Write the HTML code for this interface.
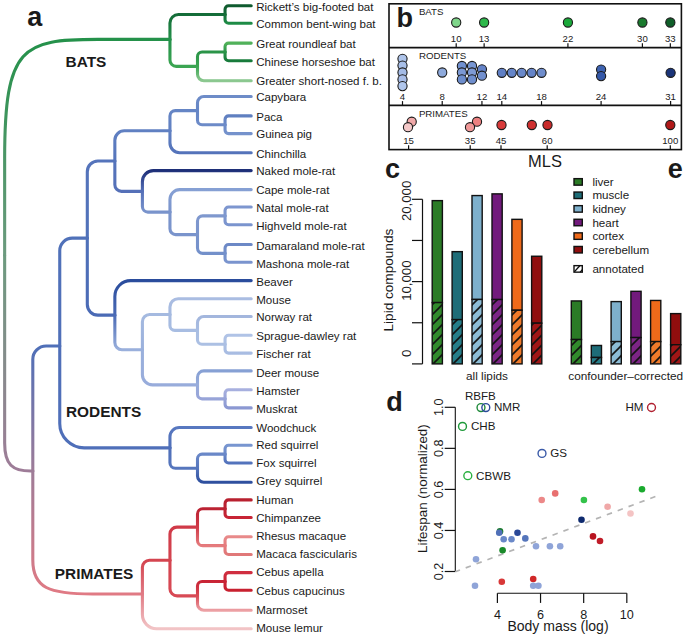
<!DOCTYPE html>
<html><head><meta charset="utf-8"><style>
html,body{margin:0;padding:0;background:#fff;}
svg{display:block;}
text{font-family:"Liberation Sans", sans-serif;fill:#1a1a1a;}
</style></head><body>
<svg width="685" height="636" viewBox="0 0 685 636">
<defs><linearGradient id="g1" gradientUnits="userSpaceOnUse" x1="4.65" y1="255.20" x2="4.65" y2="39.40"><stop offset="0" stop-color="#6c9a7e"/><stop offset="1" stop-color="#24914a"/></linearGradient><linearGradient id="g2" gradientUnits="userSpaceOnUse" x1="169.95" y1="39.40" x2="169.95" y2="14.50"><stop offset="0" stop-color="#24914a"/><stop offset="1" stop-color="#146c38"/></linearGradient><linearGradient id="g3" gradientUnits="userSpaceOnUse" x1="225.05" y1="14.50" x2="225.05" y2="5.70"><stop offset="0" stop-color="#146c38"/><stop offset="1" stop-color="#0f5a2e"/></linearGradient><linearGradient id="g4" gradientUnits="userSpaceOnUse" x1="225.05" y1="14.50" x2="225.05" y2="23.30"><stop offset="0" stop-color="#146c38"/><stop offset="1" stop-color="#1e8c46"/></linearGradient><linearGradient id="g5" gradientUnits="userSpaceOnUse" x1="169.95" y1="39.40" x2="169.95" y2="66.33"><stop offset="0" stop-color="#24914a"/><stop offset="1" stop-color="#3ba552"/></linearGradient><linearGradient id="g6" gradientUnits="userSpaceOnUse" x1="197.50" y1="66.33" x2="197.50" y2="51.95"><stop offset="0" stop-color="#3ba552"/><stop offset="1" stop-color="#2a9448"/></linearGradient><linearGradient id="g7" gradientUnits="userSpaceOnUse" x1="225.05" y1="51.95" x2="225.05" y2="43.10"><stop offset="0" stop-color="#2a9448"/><stop offset="1" stop-color="#52b25a"/></linearGradient><linearGradient id="g8" gradientUnits="userSpaceOnUse" x1="225.05" y1="51.95" x2="225.05" y2="60.80"><stop offset="0" stop-color="#2a9448"/><stop offset="1" stop-color="#177a3b"/></linearGradient><linearGradient id="g9" gradientUnits="userSpaceOnUse" x1="197.50" y1="66.33" x2="197.50" y2="80.70"><stop offset="0" stop-color="#3ba552"/><stop offset="1" stop-color="#8cc890"/></linearGradient><linearGradient id="g10" gradientUnits="userSpaceOnUse" x1="4.65" y1="255.20" x2="4.65" y2="471.00"><stop offset="0" stop-color="#6c9a7e"/><stop offset="1" stop-color="#9e7c98"/></linearGradient><linearGradient id="g11" gradientUnits="userSpaceOnUse" x1="32.80" y1="471.00" x2="32.80" y2="346.00"><stop offset="0" stop-color="#9e7c98"/><stop offset="1" stop-color="#4f6fb8"/></linearGradient><linearGradient id="g12" gradientUnits="userSpaceOnUse" x1="59.75" y1="346.00" x2="59.75" y2="238.11"><stop offset="0" stop-color="#4f6fb8"/><stop offset="1" stop-color="#5071b9"/></linearGradient><linearGradient id="g13" gradientUnits="userSpaceOnUse" x1="87.30" y1="238.11" x2="87.30" y2="161.07"><stop offset="0" stop-color="#5071b9"/><stop offset="1" stop-color="#5574bb"/></linearGradient><linearGradient id="g14" gradientUnits="userSpaceOnUse" x1="114.85" y1="161.07" x2="114.85" y2="130.80"><stop offset="0" stop-color="#5574bb"/><stop offset="1" stop-color="#6080c2"/></linearGradient><linearGradient id="g15" gradientUnits="userSpaceOnUse" x1="169.95" y1="130.80" x2="169.95" y2="110.62"><stop offset="0" stop-color="#6080c2"/><stop offset="1" stop-color="#6585c5"/></linearGradient><linearGradient id="g16" gradientUnits="userSpaceOnUse" x1="197.50" y1="110.62" x2="197.50" y2="96.50"><stop offset="0" stop-color="#6585c5"/><stop offset="1" stop-color="#6e8cc8"/></linearGradient><linearGradient id="g17" gradientUnits="userSpaceOnUse" x1="197.50" y1="110.62" x2="197.50" y2="124.75"><stop offset="0" stop-color="#6585c5"/><stop offset="1" stop-color="#6d8bc8"/></linearGradient><linearGradient id="g18" gradientUnits="userSpaceOnUse" x1="225.05" y1="124.75" x2="225.05" y2="115.90"><stop offset="0" stop-color="#6d8bc8"/><stop offset="1" stop-color="#5f7fc0"/></linearGradient><linearGradient id="g19" gradientUnits="userSpaceOnUse" x1="225.05" y1="124.75" x2="225.05" y2="133.60"><stop offset="0" stop-color="#6d8bc8"/><stop offset="1" stop-color="#7592cc"/></linearGradient><linearGradient id="g20" gradientUnits="userSpaceOnUse" x1="169.95" y1="130.80" x2="169.95" y2="152.80"><stop offset="0" stop-color="#6080c2"/><stop offset="1" stop-color="#5473ba"/></linearGradient><linearGradient id="g21" gradientUnits="userSpaceOnUse" x1="114.85" y1="161.07" x2="114.85" y2="191.35"><stop offset="0" stop-color="#5574bb"/><stop offset="1" stop-color="#5570b8"/></linearGradient><linearGradient id="g22" gradientUnits="userSpaceOnUse" x1="142.40" y1="191.35" x2="142.40" y2="170.60"><stop offset="0" stop-color="#5570b8"/><stop offset="1" stop-color="#1e2f78"/></linearGradient><linearGradient id="g23" gradientUnits="userSpaceOnUse" x1="142.40" y1="191.35" x2="142.40" y2="212.10"><stop offset="0" stop-color="#5570b8"/><stop offset="1" stop-color="#7a94cc"/></linearGradient><linearGradient id="g24" gradientUnits="userSpaceOnUse" x1="169.95" y1="212.10" x2="169.95" y2="189.60"><stop offset="0" stop-color="#7a94cc"/><stop offset="1" stop-color="#86a0d4"/></linearGradient><linearGradient id="g25" gradientUnits="userSpaceOnUse" x1="169.95" y1="212.10" x2="169.95" y2="234.60"><stop offset="0" stop-color="#7a94cc"/><stop offset="1" stop-color="#7a94cc"/></linearGradient><linearGradient id="g26" gradientUnits="userSpaceOnUse" x1="197.50" y1="234.60" x2="197.50" y2="215.85"><stop offset="0" stop-color="#7a94cc"/><stop offset="1" stop-color="#7f98ce"/></linearGradient><linearGradient id="g27" gradientUnits="userSpaceOnUse" x1="225.05" y1="215.85" x2="225.05" y2="207.00"><stop offset="0" stop-color="#7f98ce"/><stop offset="1" stop-color="#7d96cf"/></linearGradient><linearGradient id="g28" gradientUnits="userSpaceOnUse" x1="225.05" y1="215.85" x2="225.05" y2="224.70"><stop offset="0" stop-color="#7f98ce"/><stop offset="1" stop-color="#7a94ce"/></linearGradient><linearGradient id="g29" gradientUnits="userSpaceOnUse" x1="197.50" y1="234.60" x2="197.50" y2="253.35"><stop offset="0" stop-color="#7a94cc"/><stop offset="1" stop-color="#7390ca"/></linearGradient><linearGradient id="g30" gradientUnits="userSpaceOnUse" x1="225.05" y1="253.35" x2="225.05" y2="244.50"><stop offset="0" stop-color="#7390ca"/><stop offset="1" stop-color="#6c88c6"/></linearGradient><linearGradient id="g31" gradientUnits="userSpaceOnUse" x1="225.05" y1="253.35" x2="225.05" y2="262.20"><stop offset="0" stop-color="#7390ca"/><stop offset="1" stop-color="#7a94ce"/></linearGradient><linearGradient id="g32" gradientUnits="userSpaceOnUse" x1="87.30" y1="238.11" x2="87.30" y2="315.15"><stop offset="0" stop-color="#5071b9"/><stop offset="1" stop-color="#4a6ab5"/></linearGradient><linearGradient id="g33" gradientUnits="userSpaceOnUse" x1="114.85" y1="315.15" x2="114.85" y2="280.60"><stop offset="0" stop-color="#4a6ab5"/><stop offset="1" stop-color="#2a4c9c"/></linearGradient><linearGradient id="g34" gradientUnits="userSpaceOnUse" x1="114.85" y1="315.15" x2="114.85" y2="349.70"><stop offset="0" stop-color="#4a6ab5"/><stop offset="1" stop-color="#9ab0dc"/></linearGradient><linearGradient id="g35" gradientUnits="userSpaceOnUse" x1="142.40" y1="349.70" x2="142.40" y2="314.52"><stop offset="0" stop-color="#9ab0dc"/><stop offset="1" stop-color="#a5bae0"/></linearGradient><linearGradient id="g36" gradientUnits="userSpaceOnUse" x1="169.95" y1="314.52" x2="169.95" y2="298.70"><stop offset="0" stop-color="#a5bae0"/><stop offset="1" stop-color="#aabde2"/></linearGradient><linearGradient id="g37" gradientUnits="userSpaceOnUse" x1="169.95" y1="314.52" x2="169.95" y2="330.35"><stop offset="0" stop-color="#a5bae0"/><stop offset="1" stop-color="#a8bde2"/></linearGradient><linearGradient id="g38" gradientUnits="userSpaceOnUse" x1="197.50" y1="330.35" x2="197.50" y2="316.50"><stop offset="0" stop-color="#a8bde2"/><stop offset="1" stop-color="#a3b6dd"/></linearGradient><linearGradient id="g39" gradientUnits="userSpaceOnUse" x1="197.50" y1="330.35" x2="197.50" y2="344.20"><stop offset="0" stop-color="#a8bde2"/><stop offset="1" stop-color="#acc0e3"/></linearGradient><linearGradient id="g40" gradientUnits="userSpaceOnUse" x1="225.05" y1="344.20" x2="225.05" y2="335.30"><stop offset="0" stop-color="#acc0e3"/><stop offset="1" stop-color="#b0c3e6"/></linearGradient><linearGradient id="g41" gradientUnits="userSpaceOnUse" x1="225.05" y1="344.20" x2="225.05" y2="353.10"><stop offset="0" stop-color="#acc0e3"/><stop offset="1" stop-color="#a8bce2"/></linearGradient><linearGradient id="g42" gradientUnits="userSpaceOnUse" x1="142.40" y1="349.70" x2="142.40" y2="384.88"><stop offset="0" stop-color="#9ab0dc"/><stop offset="1" stop-color="#98acdb"/></linearGradient><linearGradient id="g43" gradientUnits="userSpaceOnUse" x1="197.50" y1="384.88" x2="197.50" y2="370.90"><stop offset="0" stop-color="#98acdb"/><stop offset="1" stop-color="#86a0d4"/></linearGradient><linearGradient id="g44" gradientUnits="userSpaceOnUse" x1="197.50" y1="384.88" x2="197.50" y2="398.85"><stop offset="0" stop-color="#98acdb"/><stop offset="1" stop-color="#98a4d8"/></linearGradient><linearGradient id="g45" gradientUnits="userSpaceOnUse" x1="225.05" y1="398.85" x2="225.05" y2="389.80"><stop offset="0" stop-color="#98a4d8"/><stop offset="1" stop-color="#a8b0df"/></linearGradient><linearGradient id="g46" gradientUnits="userSpaceOnUse" x1="225.05" y1="398.85" x2="225.05" y2="407.90"><stop offset="0" stop-color="#98a4d8"/><stop offset="1" stop-color="#8b98d2"/></linearGradient><linearGradient id="g47" gradientUnits="userSpaceOnUse" x1="59.75" y1="346.00" x2="59.75" y2="447.86"><stop offset="0" stop-color="#4f6fb8"/><stop offset="1" stop-color="#4f6fb9"/></linearGradient><linearGradient id="g48" gradientUnits="userSpaceOnUse" x1="169.95" y1="447.86" x2="169.95" y2="427.50"><stop offset="0" stop-color="#4f6fb9"/><stop offset="1" stop-color="#5878c0"/></linearGradient><linearGradient id="g49" gradientUnits="userSpaceOnUse" x1="169.95" y1="447.86" x2="169.95" y2="468.23"><stop offset="0" stop-color="#4f6fb9"/><stop offset="1" stop-color="#5676bd"/></linearGradient><linearGradient id="g50" gradientUnits="userSpaceOnUse" x1="197.50" y1="468.23" x2="197.50" y2="454.15"><stop offset="0" stop-color="#5676bd"/><stop offset="1" stop-color="#6a88c8"/></linearGradient><linearGradient id="g51" gradientUnits="userSpaceOnUse" x1="225.05" y1="454.15" x2="225.05" y2="445.30"><stop offset="0" stop-color="#6a88c8"/><stop offset="1" stop-color="#7896d0"/></linearGradient><linearGradient id="g52" gradientUnits="userSpaceOnUse" x1="225.05" y1="454.15" x2="225.05" y2="463.00"><stop offset="0" stop-color="#6a88c8"/><stop offset="1" stop-color="#5272bc"/></linearGradient><linearGradient id="g53" gradientUnits="userSpaceOnUse" x1="197.50" y1="468.23" x2="197.50" y2="482.30"><stop offset="0" stop-color="#5676bd"/><stop offset="1" stop-color="#2e4f9e"/></linearGradient><linearGradient id="g54" gradientUnits="userSpaceOnUse" x1="32.80" y1="471.00" x2="32.80" y2="594.00"><stop offset="0" stop-color="#9e7c98"/><stop offset="1" stop-color="#e07a84"/></linearGradient><linearGradient id="g55" gradientUnits="userSpaceOnUse" x1="142.40" y1="594.00" x2="142.40" y2="560.30"><stop offset="0" stop-color="#e07a84"/><stop offset="1" stop-color="#d4444f"/></linearGradient><linearGradient id="g56" gradientUnits="userSpaceOnUse" x1="169.95" y1="560.30" x2="169.95" y2="527.15"><stop offset="0" stop-color="#d4444f"/><stop offset="1" stop-color="#d03a48"/></linearGradient><linearGradient id="g57" gradientUnits="userSpaceOnUse" x1="197.50" y1="527.15" x2="197.50" y2="508.70"><stop offset="0" stop-color="#d03a48"/><stop offset="1" stop-color="#bb2232"/></linearGradient><linearGradient id="g58" gradientUnits="userSpaceOnUse" x1="225.05" y1="508.70" x2="225.05" y2="499.90"><stop offset="0" stop-color="#bb2232"/><stop offset="1" stop-color="#b8202f"/></linearGradient><linearGradient id="g59" gradientUnits="userSpaceOnUse" x1="225.05" y1="508.70" x2="225.05" y2="517.50"><stop offset="0" stop-color="#bb2232"/><stop offset="1" stop-color="#c82435"/></linearGradient><linearGradient id="g60" gradientUnits="userSpaceOnUse" x1="197.50" y1="527.15" x2="197.50" y2="545.60"><stop offset="0" stop-color="#d03a48"/><stop offset="1" stop-color="#e57b7d"/></linearGradient><linearGradient id="g61" gradientUnits="userSpaceOnUse" x1="225.05" y1="545.60" x2="225.05" y2="536.70"><stop offset="0" stop-color="#e57b7d"/><stop offset="1" stop-color="#e88a8a"/></linearGradient><linearGradient id="g62" gradientUnits="userSpaceOnUse" x1="225.05" y1="545.60" x2="225.05" y2="554.50"><stop offset="0" stop-color="#e57b7d"/><stop offset="1" stop-color="#e07878"/></linearGradient><linearGradient id="g63" gradientUnits="userSpaceOnUse" x1="169.95" y1="560.30" x2="169.95" y2="595.88"><stop offset="0" stop-color="#d4444f"/><stop offset="1" stop-color="#d84a55"/></linearGradient><linearGradient id="g64" gradientUnits="userSpaceOnUse" x1="197.50" y1="595.88" x2="197.50" y2="581.45"><stop offset="0" stop-color="#d84a55"/><stop offset="1" stop-color="#c82435"/></linearGradient><linearGradient id="g65" gradientUnits="userSpaceOnUse" x1="225.05" y1="581.45" x2="225.05" y2="572.60"><stop offset="0" stop-color="#c82435"/><stop offset="1" stop-color="#d02e40"/></linearGradient><linearGradient id="g66" gradientUnits="userSpaceOnUse" x1="225.05" y1="581.45" x2="225.05" y2="590.30"><stop offset="0" stop-color="#c82435"/><stop offset="1" stop-color="#c8202f"/></linearGradient><linearGradient id="g67" gradientUnits="userSpaceOnUse" x1="197.50" y1="595.88" x2="197.50" y2="610.30"><stop offset="0" stop-color="#d84a55"/><stop offset="1" stop-color="#eca0a4"/></linearGradient><linearGradient id="g68" gradientUnits="userSpaceOnUse" x1="142.40" y1="594.00" x2="142.40" y2="628.70"><stop offset="0" stop-color="#e07a84"/><stop offset="1" stop-color="#f2c4c6"/></linearGradient><pattern id="h0" patternUnits="userSpaceOnUse" width="10.0" height="10.0" x="0" y="366.90"><rect width="10.0" height="10.0" fill="#318a2c"/><path d="M-2,12.0 L12.0,-2 M-5,5 L5,-5 M5,15 L15,5" stroke="#111" stroke-width="1.6"/></pattern><pattern id="h1" patternUnits="userSpaceOnUse" width="10.0" height="10.0" x="0" y="366.90"><rect width="10.0" height="10.0" fill="#267e8a"/><path d="M-2,12.0 L12.0,-2 M-5,5 L5,-5 M5,15 L15,5" stroke="#111" stroke-width="1.6"/></pattern><pattern id="h2" patternUnits="userSpaceOnUse" width="10.0" height="10.0" x="0" y="366.90"><rect width="10.0" height="10.0" fill="#8cbcd6"/><path d="M-2,12.0 L12.0,-2 M-5,5 L5,-5 M5,15 L15,5" stroke="#111" stroke-width="1.6"/></pattern><pattern id="h3" patternUnits="userSpaceOnUse" width="10.0" height="10.0" x="0" y="366.90"><rect width="10.0" height="10.0" fill="#7c2486"/><path d="M-2,12.0 L12.0,-2 M-5,5 L5,-5 M5,15 L15,5" stroke="#111" stroke-width="1.6"/></pattern><pattern id="h4" patternUnits="userSpaceOnUse" width="10.0" height="10.0" x="0" y="366.90"><rect width="10.0" height="10.0" fill="#f07a2a"/><path d="M-2,12.0 L12.0,-2 M-5,5 L5,-5 M5,15 L15,5" stroke="#111" stroke-width="1.6"/></pattern><pattern id="h5" patternUnits="userSpaceOnUse" width="10.0" height="10.0" x="0" y="366.90"><rect width="10.0" height="10.0" fill="#a01616"/><path d="M-2,12.0 L12.0,-2 M-5,5 L5,-5 M5,15 L15,5" stroke="#111" stroke-width="1.6"/></pattern></defs>
<g fill="none" stroke-width="3.10" stroke-linecap="round" stroke-linejoin="round"><path d="M4.65,255.20 V158.3 C4.65,45.9 22.7,39.40 97.9,39.40 H169.95" stroke="url(#g1)"/><path d="M169.95,39.40 V23.02 C169.95,18.33 173.78,14.50 178.47,14.50 H225.05" stroke="url(#g2)"/><path d="M225.05,14.50 V9.19 C225.05,7.27 226.62,5.70 228.54,5.70 H251.20" stroke="url(#g3)"/><path d="M225.05,14.50 V19.81 C225.05,21.73 226.62,23.30 228.54,23.30 H251.20" stroke="url(#g4)"/><path d="M169.95,39.40 V60.06 C169.95,63.51 172.77,66.33 176.21,66.33 H197.50" stroke="url(#g5)"/><path d="M197.50,66.33 V56.53 C197.50,54.01 199.56,51.95 202.08,51.95 H225.05" stroke="url(#g6)"/><path d="M225.05,51.95 V46.60 C225.05,44.67 226.62,43.10 228.55,43.10 H251.20" stroke="url(#g7)"/><path d="M225.05,51.95 V57.30 C225.05,59.23 226.62,60.80 228.55,60.80 H251.20" stroke="url(#g8)"/><path d="M197.50,66.33 V74.31 C197.50,77.82 200.38,80.70 203.89,80.70 H251.20" stroke="url(#g9)"/><path d="M4.65,255.20 V443.00 C4.65,465.00 12.65,471.00 30.65,471.00 H32.80" stroke="url(#g10)"/><path d="M32.80,471.00 V359.35 C32.80,352.01 38.81,346.00 46.15,346.00 H59.75" stroke="url(#g11)"/><path d="M59.75,346.00 V250.65 C59.75,243.76 65.39,238.11 72.29,238.11 H87.30" stroke="url(#g12)"/><path d="M87.30,238.11 V171.67 C87.30,165.84 92.07,161.07 97.90,161.07 H114.85" stroke="url(#g13)"/><path d="M114.85,161.07 V140.19 C114.85,135.03 119.08,130.80 124.24,130.80 H169.95" stroke="url(#g14)"/><path d="M169.95,130.80 V116.05 C169.95,113.07 172.39,110.62 175.37,110.62 H197.50" stroke="url(#g15)"/><path d="M197.50,110.62 V102.83 C197.50,99.35 200.35,96.50 203.83,96.50 H251.20" stroke="url(#g16)"/><path d="M197.50,110.62 V120.21 C197.50,122.71 199.54,124.75 202.04,124.75 H225.05" stroke="url(#g17)"/><path d="M225.05,124.75 V119.40 C225.05,117.47 226.62,115.90 228.55,115.90 H251.20" stroke="url(#g18)"/><path d="M225.05,124.75 V130.10 C225.05,132.03 226.62,133.60 228.55,133.60 H251.20" stroke="url(#g19)"/><path d="M169.95,130.80 V143.08 C169.95,148.42 174.33,152.80 179.67,152.80 H251.20" stroke="url(#g20)"/><path d="M114.85,161.07 V184.71 C114.85,188.36 117.84,191.35 121.49,191.35 H142.40" stroke="url(#g21)"/><path d="M142.40,191.35 V181.53 C142.40,175.52 147.32,170.60 153.33,170.60 H251.20" stroke="url(#g22)"/><path d="M142.40,191.35 V206.60 C142.40,209.63 144.87,212.10 147.90,212.10 H169.95" stroke="url(#g23)"/><path d="M169.95,212.10 V199.43 C169.95,194.03 174.38,189.60 179.78,189.60 H251.20" stroke="url(#g24)"/><path d="M169.95,212.10 V228.87 C169.95,232.02 172.53,234.60 175.68,234.60 H197.50" stroke="url(#g25)"/><path d="M197.50,234.60 V221.08 C197.50,218.20 199.85,215.85 202.73,215.85 H225.05" stroke="url(#g26)"/><path d="M225.05,215.85 V210.50 C225.05,208.57 226.62,207.00 228.55,207.00 H251.20" stroke="url(#g27)"/><path d="M225.05,215.85 V221.20 C225.05,223.13 226.62,224.70 228.55,224.70 H251.20" stroke="url(#g28)"/><path d="M197.50,234.60 V248.12 C197.50,251.00 199.85,253.35 202.73,253.35 H225.05" stroke="url(#g29)"/><path d="M225.05,253.35 V248.00 C225.05,246.07 226.62,244.50 228.55,244.50 H251.20" stroke="url(#g30)"/><path d="M225.05,253.35 V258.70 C225.05,260.63 226.62,262.20 228.55,262.20 H251.20" stroke="url(#g31)"/><path d="M87.30,238.11 V304.55 C87.30,310.38 92.07,315.15 97.90,315.15 H114.85" stroke="url(#g32)"/><path d="M114.85,315.15 V296.39 C114.85,287.70 121.95,280.60 130.64,280.60 H251.20" stroke="url(#g33)"/><path d="M114.85,315.15 V342.60 C114.85,346.51 118.04,349.70 121.95,349.70 H142.40" stroke="url(#g34)"/><path d="M142.40,349.70 V321.68 C142.40,317.75 145.62,314.52 149.56,314.52 H169.95" stroke="url(#g35)"/><path d="M169.95,314.52 V306.95 C169.95,302.41 173.66,298.70 178.20,298.70 H251.20" stroke="url(#g36)"/><path d="M169.95,314.52 V325.55 C169.95,328.19 172.11,330.35 174.75,330.35 H197.50" stroke="url(#g37)"/><path d="M197.50,330.35 V322.77 C197.50,319.32 200.32,316.50 203.77,316.50 H251.20" stroke="url(#g38)"/><path d="M197.50,330.35 V339.71 C197.50,342.18 199.52,344.20 201.99,344.20 H225.05" stroke="url(#g39)"/><path d="M225.05,344.20 V338.81 C225.05,336.88 226.63,335.30 228.56,335.30 H251.20" stroke="url(#g40)"/><path d="M225.05,344.20 V349.59 C225.05,351.52 226.63,353.10 228.56,353.10 H251.20" stroke="url(#g41)"/><path d="M142.40,349.70 V374.75 C142.40,380.32 146.96,384.88 152.53,384.88 H197.50" stroke="url(#g42)"/><path d="M197.50,384.88 V377.20 C197.50,373.74 200.34,370.90 203.80,370.90 H251.20" stroke="url(#g43)"/><path d="M197.50,384.88 V394.34 C197.50,396.82 199.53,398.85 202.01,398.85 H225.05" stroke="url(#g44)"/><path d="M225.05,398.85 V393.34 C225.05,391.39 226.64,389.80 228.59,389.80 H251.20" stroke="url(#g45)"/><path d="M225.05,398.85 V404.36 C225.05,406.31 226.64,407.90 228.59,407.90 H251.20" stroke="url(#g46)"/><path d="M59.75,346.00 V423.49 C59.75,436.90 70.72,447.86 84.12,447.86 H169.95" stroke="url(#g47)"/><path d="M169.95,447.86 V436.86 C169.95,431.71 174.16,427.50 179.31,427.50 H251.20" stroke="url(#g48)"/><path d="M169.95,447.86 V462.78 C169.95,465.77 172.40,468.23 175.40,468.23 H197.50" stroke="url(#g49)"/><path d="M197.50,468.23 V458.68 C197.50,456.19 199.54,454.15 202.03,454.15 H225.05" stroke="url(#g50)"/><path d="M225.05,454.15 V448.80 C225.05,446.87 226.62,445.30 228.55,445.30 H251.20" stroke="url(#g51)"/><path d="M225.05,454.15 V459.50 C225.05,461.43 226.62,463.00 228.55,463.00 H251.20" stroke="url(#g52)"/><path d="M197.50,468.23 V475.98 C197.50,479.45 200.35,482.30 203.82,482.30 H251.20" stroke="url(#g53)"/><path d="M32.80,471.00 V560.00 C32.80,588.00 48.80,594.00 92.80,594.00 H142.40" stroke="url(#g54)"/><path d="M142.40,594.00 V567.31 C142.40,563.45 145.55,560.30 149.41,560.30 H169.95" stroke="url(#g55)"/><path d="M169.95,560.30 V534.10 C169.95,530.28 173.08,527.15 176.90,527.15 H197.50" stroke="url(#g56)"/><path d="M197.50,527.15 V513.89 C197.50,511.03 199.83,508.70 202.69,508.70 H225.05" stroke="url(#g57)"/><path d="M225.05,508.70 V503.39 C225.05,501.47 226.62,499.90 228.54,499.90 H251.20" stroke="url(#g58)"/><path d="M225.05,508.70 V514.01 C225.05,515.93 226.62,517.50 228.54,517.50 H251.20" stroke="url(#g59)"/><path d="M197.50,527.15 V540.41 C197.50,543.27 199.83,545.60 202.69,545.60 H225.05" stroke="url(#g60)"/><path d="M225.05,545.60 V540.21 C225.05,538.28 226.63,536.70 228.56,536.70 H251.20" stroke="url(#g61)"/><path d="M225.05,545.60 V550.99 C225.05,552.92 226.63,554.50 228.56,554.50 H251.20" stroke="url(#g62)"/><path d="M169.95,560.30 V588.67 C169.95,592.63 173.19,595.88 177.15,595.88 H197.50" stroke="url(#g63)"/><path d="M197.50,595.88 V586.04 C197.50,583.51 199.56,581.45 202.09,581.45 H225.05" stroke="url(#g64)"/><path d="M225.05,581.45 V576.10 C225.05,574.17 226.62,572.60 228.55,572.60 H251.20" stroke="url(#g65)"/><path d="M225.05,581.45 V586.80 C225.05,588.73 226.62,590.30 228.55,590.30 H251.20" stroke="url(#g66)"/><path d="M197.50,595.88 V603.90 C197.50,607.42 200.38,610.30 203.90,610.30 H251.20" stroke="url(#g67)"/><path d="M142.40,594.00 V614.57 C142.40,622.34 148.76,628.70 156.53,628.70 H251.20" stroke="url(#g68)"/></g>
<g font-size="11.55" fill="#1a1a1a"><text x="256.2" y="10.67">Rickett’s big-footed bat</text><text x="256.2" y="28.37">Common bent-wing bat</text><text x="256.2" y="48.17">Great roundleaf bat</text><text x="256.2" y="66.17">Chinese horseshoe bat</text><text x="256.2" y="84.87">Greater short-nosed f. b.</text><text x="256.2" y="101.17">Capybara</text><text x="256.2" y="120.57">Paca</text><text x="256.2" y="138.47">Guinea pig</text><text x="256.2" y="157.57">Chinchilla</text><text x="256.2" y="175.37">Naked mole-rat</text><text x="256.2" y="193.67">Cape mole-rat</text><text x="256.2" y="212.27">Natal mole-rat</text><text x="256.2" y="229.72">Highveld mole-rat</text><text x="256.2" y="249.52">Damaraland mole-rat</text><text x="256.2" y="267.67">Mashona mole-rat</text><text x="256.2" y="285.97">Beaver</text><text x="256.2" y="303.97">Mouse</text><text x="256.2" y="320.67">Norway rat</text><text x="256.2" y="339.57">Sprague-dawley rat</text><text x="256.2" y="357.97">Fischer rat</text><text x="256.2" y="376.72">Deer mouse</text><text x="256.2" y="395.07">Hamster</text><text x="256.2" y="413.17">Muskrat</text><text x="256.2" y="431.87">Woodchuck</text><text x="256.2" y="448.82">Red squirrel</text><text x="256.2" y="467.07">Fox squirrel</text><text x="256.2" y="485.47">Grey squirrel</text><text x="256.2" y="504.17">Human</text><text x="256.2" y="521.57">Chimpanzee</text><text x="256.2" y="540.07">Rhesus macaque</text><text x="256.2" y="558.07">Macaca fascicularis</text><text x="256.2" y="576.37">Cebus apella</text><text x="256.2" y="594.57">Cebus capucinus</text><text x="256.2" y="614.17">Marmoset</text><text x="256.2" y="632.47">Mouse lemur</text></g>
<text x="27.3" y="26.4" font-size="27" font-weight="bold">a</text><text x="65.6" y="66.7" font-size="15.4" font-weight="bold">BATS</text><text x="66" y="417.2" font-size="15.4" font-weight="bold">RODENTS</text><text x="54.8" y="579.2" font-size="15.4" font-weight="bold">PRIMATES</text>
<rect x="389.0" y="3.8" width="292.4" height="145.8" fill="none" stroke="#111" stroke-width="1.6"/><line x1="389.0" x2="681.4" y1="47.6" y2="47.6" stroke="#111" stroke-width="1.6"/><line x1="389.0" x2="681.4" y1="105.4" y2="105.4" stroke="#111" stroke-width="1.6"/><text x="396.6" y="26.7" font-size="27" font-weight="bold">b</text><text x="418.9" y="15.0" font-size="9.7">BATS</text><text x="418.9" y="59.1" font-size="9.7">RODENTS</text><text x="418.9" y="116.6" font-size="9.7">PRIMATES</text><circle cx="456.20" cy="22.50" r="4.60" fill="#7fd68a" stroke="#1a1a1a" stroke-width="1.1"/><circle cx="484.13" cy="22.50" r="4.60" fill="#2db84a" stroke="#1a1a1a" stroke-width="1.1"/><circle cx="567.92" cy="22.50" r="4.60" fill="#1aa83a" stroke="#1a1a1a" stroke-width="1.1"/><circle cx="642.40" cy="22.50" r="4.60" fill="#1a7a2e" stroke="#1a1a1a" stroke-width="1.1"/><circle cx="670.33" cy="22.50" r="4.60" fill="#0f5e28" stroke="#1a1a1a" stroke-width="1.1"/><line x1="456.20" x2="456.20" y1="43.30" y2="47.60" stroke="#111" stroke-width="1.2"/><text x="456.20" y="42.00" font-size="9.6" text-anchor="middle">10</text><line x1="484.13" x2="484.13" y1="43.30" y2="47.60" stroke="#111" stroke-width="1.2"/><text x="484.13" y="42.00" font-size="9.6" text-anchor="middle">13</text><line x1="567.92" x2="567.92" y1="43.30" y2="47.60" stroke="#111" stroke-width="1.2"/><text x="567.92" y="42.00" font-size="9.6" text-anchor="middle">22</text><line x1="642.40" x2="642.40" y1="43.30" y2="47.60" stroke="#111" stroke-width="1.2"/><text x="642.40" y="42.00" font-size="9.6" text-anchor="middle">30</text><line x1="670.33" x2="670.33" y1="43.30" y2="47.60" stroke="#111" stroke-width="1.2"/><text x="670.33" y="42.00" font-size="9.6" text-anchor="middle">33</text><circle cx="402.50" cy="58.80" r="4.60" fill="#aec4ea" stroke="#1a1a1a" stroke-width="1.1"/><circle cx="402.50" cy="65.60" r="4.60" fill="#a8bfe8" stroke="#1a1a1a" stroke-width="1.1"/><circle cx="402.50" cy="72.50" r="4.60" fill="#a4bbe6" stroke="#1a1a1a" stroke-width="1.1"/><circle cx="402.50" cy="79.40" r="4.60" fill="#a8bde8" stroke="#1a1a1a" stroke-width="1.1"/><circle cx="402.50" cy="86.10" r="4.60" fill="#b0c6ec" stroke="#1a1a1a" stroke-width="1.1"/><circle cx="442.22" cy="72.50" r="4.60" fill="#8eaadc" stroke="#1a1a1a" stroke-width="1.1"/><circle cx="461.88" cy="66.00" r="4.60" fill="#7090cf" stroke="#1a1a1a" stroke-width="1.1"/><circle cx="461.88" cy="72.50" r="4.60" fill="#7b98d3" stroke="#1a1a1a" stroke-width="1.1"/><circle cx="461.88" cy="79.40" r="4.60" fill="#6d8dcc" stroke="#1a1a1a" stroke-width="1.1"/><circle cx="472.01" cy="66.00" r="4.60" fill="#7896d2" stroke="#1a1a1a" stroke-width="1.1"/><circle cx="472.01" cy="72.50" r="4.60" fill="#7e9ad4" stroke="#1a1a1a" stroke-width="1.1"/><circle cx="472.01" cy="79.40" r="4.60" fill="#6f8ecd" stroke="#1a1a1a" stroke-width="1.1"/><circle cx="481.94" cy="69.30" r="4.60" fill="#6483c8" stroke="#1a1a1a" stroke-width="1.1"/><circle cx="481.94" cy="75.70" r="4.60" fill="#7290cf" stroke="#1a1a1a" stroke-width="1.1"/><circle cx="501.80" cy="72.80" r="4.60" fill="#5f7fc4" stroke="#1a1a1a" stroke-width="1.1"/><circle cx="511.73" cy="72.80" r="4.60" fill="#6585c8" stroke="#1a1a1a" stroke-width="1.1"/><circle cx="521.66" cy="72.80" r="4.60" fill="#6a89ca" stroke="#1a1a1a" stroke-width="1.1"/><circle cx="531.59" cy="72.80" r="4.60" fill="#6584c8" stroke="#1a1a1a" stroke-width="1.1"/><circle cx="541.52" cy="72.80" r="4.60" fill="#6f8dcc" stroke="#1a1a1a" stroke-width="1.1"/><circle cx="601.10" cy="69.60" r="4.60" fill="#3d62b0" stroke="#1a1a1a" stroke-width="1.1"/><circle cx="601.10" cy="76.10" r="4.60" fill="#3458a8" stroke="#1a1a1a" stroke-width="1.1"/><circle cx="670.61" cy="72.80" r="4.60" fill="#1a3478" stroke="#1a1a1a" stroke-width="1.1"/><line x1="402.50" x2="402.50" y1="101.10" y2="105.40" stroke="#111" stroke-width="1.2"/><text x="402.50" y="99.80" font-size="9.6" text-anchor="middle">4</text><line x1="442.22" x2="442.22" y1="101.10" y2="105.40" stroke="#111" stroke-width="1.2"/><text x="442.22" y="99.80" font-size="9.6" text-anchor="middle">8</text><line x1="481.94" x2="481.94" y1="101.10" y2="105.40" stroke="#111" stroke-width="1.2"/><text x="481.94" y="99.80" font-size="9.6" text-anchor="middle">12</text><line x1="501.80" x2="501.80" y1="101.10" y2="105.40" stroke="#111" stroke-width="1.2"/><text x="501.80" y="99.80" font-size="9.6" text-anchor="middle">14</text><line x1="541.52" x2="541.52" y1="101.10" y2="105.40" stroke="#111" stroke-width="1.2"/><text x="541.52" y="99.80" font-size="9.6" text-anchor="middle">18</text><line x1="601.10" x2="601.10" y1="101.10" y2="105.40" stroke="#111" stroke-width="1.2"/><text x="601.10" y="99.80" font-size="9.6" text-anchor="middle">24</text><line x1="670.61" x2="670.61" y1="101.10" y2="105.40" stroke="#111" stroke-width="1.2"/><text x="670.61" y="99.80" font-size="9.6" text-anchor="middle">31</text><circle cx="411.70" cy="121.70" r="4.60" fill="#f0a8a8" stroke="#1a1a1a" stroke-width="1.1"/><circle cx="408.00" cy="127.20" r="4.60" fill="#f4c8c8" stroke="#1a1a1a" stroke-width="1.1"/><circle cx="477.00" cy="121.70" r="4.60" fill="#ec8080" stroke="#1a1a1a" stroke-width="1.1"/><circle cx="470.00" cy="127.20" r="4.60" fill="#f09898" stroke="#1a1a1a" stroke-width="1.1"/><circle cx="501.50" cy="125.00" r="4.60" fill="#d83a3a" stroke="#1a1a1a" stroke-width="1.1"/><circle cx="531.80" cy="125.00" r="4.60" fill="#d03030" stroke="#1a1a1a" stroke-width="1.1"/><circle cx="547.50" cy="125.00" r="4.60" fill="#c82a2a" stroke="#1a1a1a" stroke-width="1.1"/><circle cx="670.30" cy="125.00" r="4.60" fill="#b01818" stroke="#1a1a1a" stroke-width="1.1"/><line x1="408.60" x2="408.60" y1="145.30" y2="149.60" stroke="#111" stroke-width="1.2"/><text x="408.60" y="144.00" font-size="9.6" text-anchor="middle">15</text><line x1="470.20" x2="470.20" y1="145.30" y2="149.60" stroke="#111" stroke-width="1.2"/><text x="470.20" y="144.00" font-size="9.6" text-anchor="middle">35</text><line x1="501.00" x2="501.00" y1="145.30" y2="149.60" stroke="#111" stroke-width="1.2"/><text x="501.00" y="144.00" font-size="9.6" text-anchor="middle">45</text><line x1="547.20" x2="547.20" y1="145.30" y2="149.60" stroke="#111" stroke-width="1.2"/><text x="547.20" y="144.00" font-size="9.6" text-anchor="middle">60</text><line x1="670.30" x2="670.30" y1="145.30" y2="149.60" stroke="#111" stroke-width="1.2"/><text x="670.30" y="144.00" font-size="9.6" text-anchor="middle">100</text><text x="545" y="167" font-size="16.5" text-anchor="middle">MLS</text>
<text x="385" y="178.4" font-size="27" font-weight="bold">c</text><text x="667.7" y="178.3" font-size="27" font-weight="bold">e</text><line x1="422.5" x2="422.5" y1="363.90" y2="199.30" stroke="#111" stroke-width="1.2"/><line x1="412" x2="422.5" y1="363.90" y2="363.90" stroke="#111" stroke-width="1.2"/><line x1="412" x2="422.5" y1="322.75" y2="322.75" stroke="#111" stroke-width="1.2"/><line x1="412" x2="422.5" y1="281.60" y2="281.60" stroke="#111" stroke-width="1.2"/><line x1="412" x2="422.5" y1="240.45" y2="240.45" stroke="#111" stroke-width="1.2"/><line x1="412" x2="422.5" y1="199.30" y2="199.30" stroke="#111" stroke-width="1.2"/><text transform="translate(410.6,353.30) rotate(-90)" font-size="13.2" text-anchor="middle">0</text><text transform="translate(410.6,280.70) rotate(-90)" font-size="13.2" text-anchor="middle">10,000</text><text transform="translate(410.6,200.90) rotate(-90)" font-size="13.2" text-anchor="middle">20,000</text><text transform="translate(393.2,280.1) rotate(-90)" font-size="13.6" text-anchor="middle">Lipid compounds</text><rect x="432.20" y="200.62" width="10.20" height="101.97" fill="#2b7b26" stroke="#111" stroke-width="1.4"/><rect x="432.20" y="302.59" width="10.20" height="61.31" fill="url(#h0)" stroke="#111" stroke-width="1.4"/><rect x="452.10" y="251.64" width="10.20" height="67.98" fill="#1e6d78" stroke="#111" stroke-width="1.4"/><rect x="452.10" y="319.62" width="10.20" height="44.28" fill="url(#h1)" stroke="#111" stroke-width="1.4"/><rect x="472.00" y="195.56" width="10.20" height="103.90" fill="#7eb0cc" stroke="#111" stroke-width="1.4"/><rect x="472.00" y="299.46" width="10.20" height="64.44" fill="url(#h2)" stroke="#111" stroke-width="1.4"/><rect x="492.00" y="193.87" width="10.20" height="105.67" fill="#721a7c" stroke="#111" stroke-width="1.4"/><rect x="492.00" y="299.54" width="10.20" height="64.36" fill="url(#h3)" stroke="#111" stroke-width="1.4"/><rect x="511.90" y="219.34" width="10.20" height="90.90" fill="#ef6a1a" stroke="#111" stroke-width="1.4"/><rect x="511.90" y="310.24" width="10.20" height="53.66" fill="url(#h4)" stroke="#111" stroke-width="1.4"/><rect x="531.60" y="256.25" width="10.20" height="66.91" fill="#900e0e" stroke="#111" stroke-width="1.4"/><rect x="531.60" y="323.16" width="10.20" height="40.74" fill="url(#h5)" stroke="#111" stroke-width="1.4"/><rect x="571.30" y="300.94" width="10.20" height="38.60" fill="#2b7b26" stroke="#111" stroke-width="1.4"/><rect x="571.30" y="339.54" width="10.20" height="24.36" fill="url(#h0)" stroke="#111" stroke-width="1.4"/><rect x="591.30" y="345.46" width="10.20" height="12.02" fill="#1e6d78" stroke="#111" stroke-width="1.4"/><rect x="591.30" y="357.48" width="10.20" height="6.42" fill="url(#h1)" stroke="#111" stroke-width="1.4"/><rect x="611.10" y="301.60" width="10.20" height="40.00" fill="#7eb0cc" stroke="#111" stroke-width="1.4"/><rect x="611.10" y="341.60" width="10.20" height="22.30" fill="url(#h2)" stroke="#111" stroke-width="1.4"/><rect x="630.90" y="291.31" width="10.20" height="46.25" fill="#721a7c" stroke="#111" stroke-width="1.4"/><rect x="630.90" y="337.56" width="10.20" height="26.34" fill="url(#h3)" stroke="#111" stroke-width="1.4"/><rect x="650.60" y="300.45" width="10.20" height="41.15" fill="#ef6a1a" stroke="#111" stroke-width="1.4"/><rect x="650.60" y="341.60" width="10.20" height="22.30" fill="url(#h4)" stroke="#111" stroke-width="1.4"/><rect x="670.60" y="313.61" width="10.20" height="31.11" fill="#900e0e" stroke="#111" stroke-width="1.4"/><rect x="670.60" y="344.72" width="10.20" height="19.18" fill="url(#h5)" stroke="#111" stroke-width="1.4"/><text x="487" y="379.9" font-size="11.8" text-anchor="middle">all lipids</text><text x="625.7" y="380.1" font-size="11.8" text-anchor="middle">confounder–corrected</text><rect x="574.0" y="178.65" width="8.3" height="6.5" fill="#2b7b26" stroke="#111" stroke-width="1.4"/><text x="592.4" y="186.00" font-size="11.6">liver</text><rect x="574.0" y="192.05" width="8.3" height="6.5" fill="#1e6d78" stroke="#111" stroke-width="1.4"/><text x="592.4" y="199.40" font-size="11.6">muscle</text><rect x="574.0" y="205.65" width="8.3" height="6.5" fill="#7eb0cc" stroke="#111" stroke-width="1.4"/><text x="592.4" y="213.00" font-size="11.6">kidney</text><rect x="574.0" y="219.25" width="8.3" height="6.5" fill="#721a7c" stroke="#111" stroke-width="1.4"/><text x="592.4" y="226.60" font-size="11.6">heart</text><rect x="574.0" y="232.85" width="8.3" height="6.5" fill="#ef6a1a" stroke="#111" stroke-width="1.4"/><text x="592.4" y="240.20" font-size="11.6">cortex</text><rect x="574.0" y="246.45" width="8.3" height="6.5" fill="#900e0e" stroke="#111" stroke-width="1.4"/><text x="592.4" y="253.80" font-size="11.6">cerebellum</text><rect x="574.0" y="265.65" width="8.3" height="6.5" fill="#fff" stroke="#111" stroke-width="1.4"/><path d="M574.3,271.9 L579.8,265.8 M580.2,272.1 L582.6,269.4" stroke="#111" stroke-width="1.4"/><text x="592.4" y="273" font-size="11.6">annotated</text>
<text x="386.3" y="411.3" font-size="27" font-weight="bold">d</text><line x1="455.3" x2="455.3" y1="571.50" y2="407.30" stroke="#111" stroke-width="1.1"/><line x1="444.7" x2="455.3" y1="571.50" y2="571.50" stroke="#111" stroke-width="1.2"/><text transform="translate(442.5,571.50) rotate(-90)" font-size="12.6" text-anchor="middle">0.2</text><line x1="444.7" x2="455.3" y1="530.45" y2="530.45" stroke="#111" stroke-width="1.2"/><text transform="translate(442.5,530.45) rotate(-90)" font-size="12.6" text-anchor="middle">0.4</text><line x1="444.7" x2="455.3" y1="489.40" y2="489.40" stroke="#111" stroke-width="1.2"/><text transform="translate(442.5,489.40) rotate(-90)" font-size="12.6" text-anchor="middle">0.6</text><line x1="444.7" x2="455.3" y1="448.35" y2="448.35" stroke="#111" stroke-width="1.2"/><text transform="translate(442.5,448.35) rotate(-90)" font-size="12.6" text-anchor="middle">0.8</text><line x1="444.7" x2="455.3" y1="407.30" y2="407.30" stroke="#111" stroke-width="1.2"/><text transform="translate(442.5,407.30) rotate(-90)" font-size="12.6" text-anchor="middle">1.0</text><line x1="497.40" x2="626.82" y1="593.2" y2="593.2" stroke="#111" stroke-width="1.1"/><line x1="497.40" x2="497.40" y1="593.2" y2="602.9" stroke="#111" stroke-width="1.2"/><text x="497.40" y="618.5" font-size="12.6" text-anchor="middle">4</text><line x1="540.54" x2="540.54" y1="593.2" y2="602.9" stroke="#111" stroke-width="1.2"/><text x="540.54" y="618.5" font-size="12.6" text-anchor="middle">6</text><line x1="583.68" x2="583.68" y1="593.2" y2="602.9" stroke="#111" stroke-width="1.2"/><text x="583.68" y="618.5" font-size="12.6" text-anchor="middle">8</text><line x1="626.82" x2="626.82" y1="593.2" y2="602.9" stroke="#111" stroke-width="1.2"/><text x="626.82" y="618.5" font-size="12.6" text-anchor="middle">10</text><text x="558" y="631" font-size="14" text-anchor="middle">Body mass (log)</text><text transform="translate(427.3,488.65) rotate(-90)" font-size="13.4" text-anchor="middle">Lifespan (normalized)</text><line x1="655.4" y1="496.5" x2="455.3" y2="571.8" stroke="#b4b4b4" stroke-width="1.7" stroke-dasharray="5.5,6.1"/><circle cx="476.00" cy="559.30" r="3.3" fill="#8fa4d8"/><circle cx="475.00" cy="585.70" r="3.3" fill="#8fa4d8"/><circle cx="501.80" cy="581.70" r="3.3" fill="#d83838"/><circle cx="533.20" cy="579.00" r="3.3" fill="#d02828"/><circle cx="533.20" cy="585.70" r="3.3" fill="#8fa4d8"/><circle cx="538.40" cy="585.70" r="3.3" fill="#8fa4d8"/><circle cx="500.00" cy="531.40" r="3.3" fill="#1a7a2e"/><circle cx="499.20" cy="532.70" r="3.3" fill="#5070b8"/><circle cx="503.70" cy="539.20" r="3.3" fill="#6a88c8"/><circle cx="511.50" cy="539.20" r="3.3" fill="#6a88c8"/><circle cx="517.50" cy="532.70" r="3.3" fill="#2a4898"/><circle cx="525.30" cy="538.40" r="3.3" fill="#5575bb"/><circle cx="502.60" cy="550.20" r="3.3" fill="#1a8a2a"/><circle cx="536.00" cy="546.30" r="3.3" fill="#8fa4d8"/><circle cx="549.90" cy="546.30" r="3.3" fill="#8fa4d8"/><circle cx="560.20" cy="546.30" r="3.3" fill="#8fa4d8"/><circle cx="541.70" cy="500.00" r="3.3" fill="#ec8888"/><circle cx="555.20" cy="493.40" r="3.3" fill="#e87070"/><circle cx="583.90" cy="500.00" r="3.3" fill="#33c24a"/><circle cx="642.00" cy="489.30" r="3.3" fill="#1aaa2e"/><circle cx="607.60" cy="506.70" r="3.3" fill="#f0a8a8"/><circle cx="630.50" cy="513.50" r="3.3" fill="#f4c4c4"/><circle cx="581.50" cy="519.80" r="3.3" fill="#0e2a6e"/><circle cx="593.00" cy="536.40" r="3.3" fill="#b81420"/><circle cx="600.00" cy="541.00" r="3.3" fill="#c01c28"/><circle cx="481.00" cy="407.60" r="3.95" fill="none" stroke="#1f8a3a" stroke-width="1.4"/><circle cx="485.80" cy="407.60" r="3.95" fill="none" stroke="#2a4a9a" stroke-width="1.4"/><circle cx="462.50" cy="426.40" r="3.95" fill="none" stroke="#1f9a3a" stroke-width="1.4"/><circle cx="467.80" cy="475.70" r="3.95" fill="none" stroke="#2ab040" stroke-width="1.4"/><circle cx="542.00" cy="453.40" r="3.95" fill="none" stroke="#3a5aa8" stroke-width="1.4"/><circle cx="651.50" cy="407.50" r="3.95" fill="none" stroke="#b02030" stroke-width="1.4"/><text x="464.9" y="399.5" font-size="11.6">RBFB</text><text x="494.0" y="411.2" font-size="11.6">NMR</text><text x="470.9" y="429.6" font-size="11.6">CHB</text><text x="550.3" y="457.3" font-size="11.6">GS</text><text x="476.1" y="479.6" font-size="11.6">CBWB</text><text x="625.4" y="411.4" font-size="11.6">HM</text>
</svg>
</body></html>
